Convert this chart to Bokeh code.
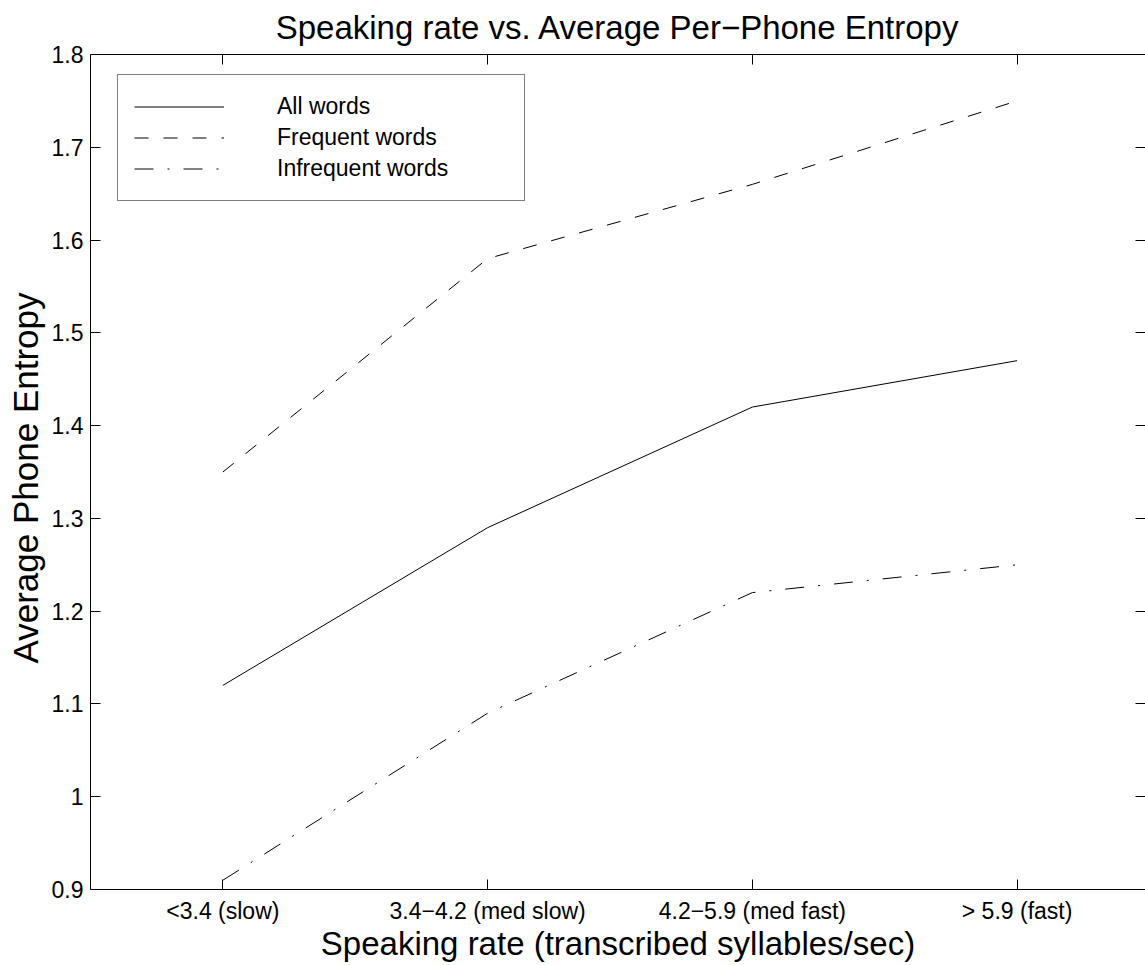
from bokeh.plotting import figure
from bokeh.models import Range1d, FixedTicker, LinearAxis, Legend, LegendItem, Title
from bokeh.embed import file_html
from bokeh.resources import INLINE

# ---- data ----
categories = ["<3.4 (slow)", "3.4\u22124.2 (med slow)", "4.2\u22125.9 (med fast)", "> 5.9 (fast)"]
x_pos = [1, 2, 3, 4]
all_words = [1.12, 1.29, 1.42, 1.47]
frequent_words = [1.35, 1.58, 1.66, 1.75]
infrequent_words = [0.91, 1.09, 1.22, 1.25]
y_ticks = [0.9, 1.0, 1.1, 1.2, 1.3, 1.4, 1.5, 1.6, 1.7, 1.8]
y_tick_labels = ["0.9", "1", "1.1", "1.2", "1.3", "1.4", "1.5", "1.6", "1.7", "1.8"]
series_names = ["All words", "Frequent words", "Infrequent words"]
title_text = "Speaking rate vs. Average Per\u2212Phone Entropy"
x_label_text = "Speaking rate (transcribed syllables/sec)"
y_label_text = "Average Phone Entropy"

FONT = "Liberation Sans"

p = figure(width=1145, height=965, output_backend="svg", toolbar_location=None,
           x_range=Range1d(0.5, 4.485), y_range=Range1d(0.9, 1.8),
           x_axis_type=None, y_axis_type=None,
           min_border_left=89, min_border_right=0, min_border_top=54, min_border_bottom=76)
p.outline_line_color = None
p.background_fill_color = "white"
p.border_fill_color = "white"

p.title.text = title_text
p.title.text_font = FONT
p.title.text_font_size = "33px"
p.title.text_font_style = "normal"
p.title.text_color = "black"
p.title.align = "center"
p.title.vertical_align = "top"
p.title.standoff = 14

def style_axis(ax, labels=True):
    ax.major_tick_in = 10
    ax.major_tick_out = 0
    ax.minor_tick_in = 0
    ax.minor_tick_out = 0
    ax.axis_line_color = "black"
    ax.axis_line_width = 1
    ax.major_tick_line_color = "black"
    ax.major_tick_line_width = 1
    ax.major_label_text_font = FONT
    ax.major_label_text_color = "black"
    ax.axis_label_text_font = FONT
    ax.axis_label_text_font_style = "normal"
    ax.axis_label_text_color = "black"
    if labels:
        ax.major_label_text_font_size = "23px"
    else:
        ax.major_label_text_font_size = "0px"
        ax.major_label_standoff = 0

xb = LinearAxis(ticker=FixedTicker(ticks=x_pos),
                major_label_overrides={x: c for x, c in zip(x_pos, categories)},
                axis_label=x_label_text)
style_axis(xb)
xb.major_label_standoff = 8
xb.axis_label_text_font_size = "33px"
xb.axis_label_standoff = -2
p.add_layout(xb, "below")

xt = LinearAxis(ticker=FixedTicker(ticks=x_pos))
style_axis(xt, labels=False)
xt.major_label_overrides = {x: "" for x in x_pos}
p.add_layout(xt, "above")

yl = LinearAxis(ticker=FixedTicker(ticks=y_ticks),
                major_label_overrides={t: l for t, l in zip(y_ticks, y_tick_labels)})
style_axis(yl)
yl.major_label_standoff = 7
p.add_layout(yl, "left")

yr = LinearAxis(ticker=FixedTicker(ticks=y_ticks))
style_axis(yr, labels=False)
yr.major_label_overrides = {t: "" for t in y_ticks}
yr.axis_line_color = None
p.add_layout(yr, "right")

# y axis title, placed from the bottom of the frame
y_title = Title(text=y_label_text, align="left", offset=226, standoff=7,
                text_font=FONT, text_font_size="35px", text_font_style="normal",
                text_color="black")
p.add_layout(y_title, "left")

r_all = p.line(x_pos, all_words, line_color="black", line_width=1)
r_freq = p.line(x_pos, frequent_words, line_color="black", line_width=1, line_dash="14 15")
r_inf = p.line(x_pos, infrequent_words, line_color="black", line_width=1, line_dash="19 14 2 14")

legend = Legend(items=[LegendItem(label=series_names[0], renderers=[r_all]),
                       LegendItem(label=series_names[1], renderers=[r_freq]),
                       LegendItem(label=series_names[2], renderers=[r_inf])],
                location=(27, 688))
legend.label_text_font = FONT
legend.label_text_font_size = "23px"
legend.label_text_color = "black"
legend.padding = 16
legend.spacing = 0
legend.glyph_width = 90
legend.glyph_height = 31
legend.label_height = 31
legend.label_width = 231
legend.label_standoff = 53
legend.border_line_color = "black"
legend.border_line_width = 1
legend.background_fill_color = "white"
legend.background_fill_alpha = 1
legend.margin = 0
p.add_layout(legend, "center")

open("out.html", "w").write(file_html(p, INLINE))
